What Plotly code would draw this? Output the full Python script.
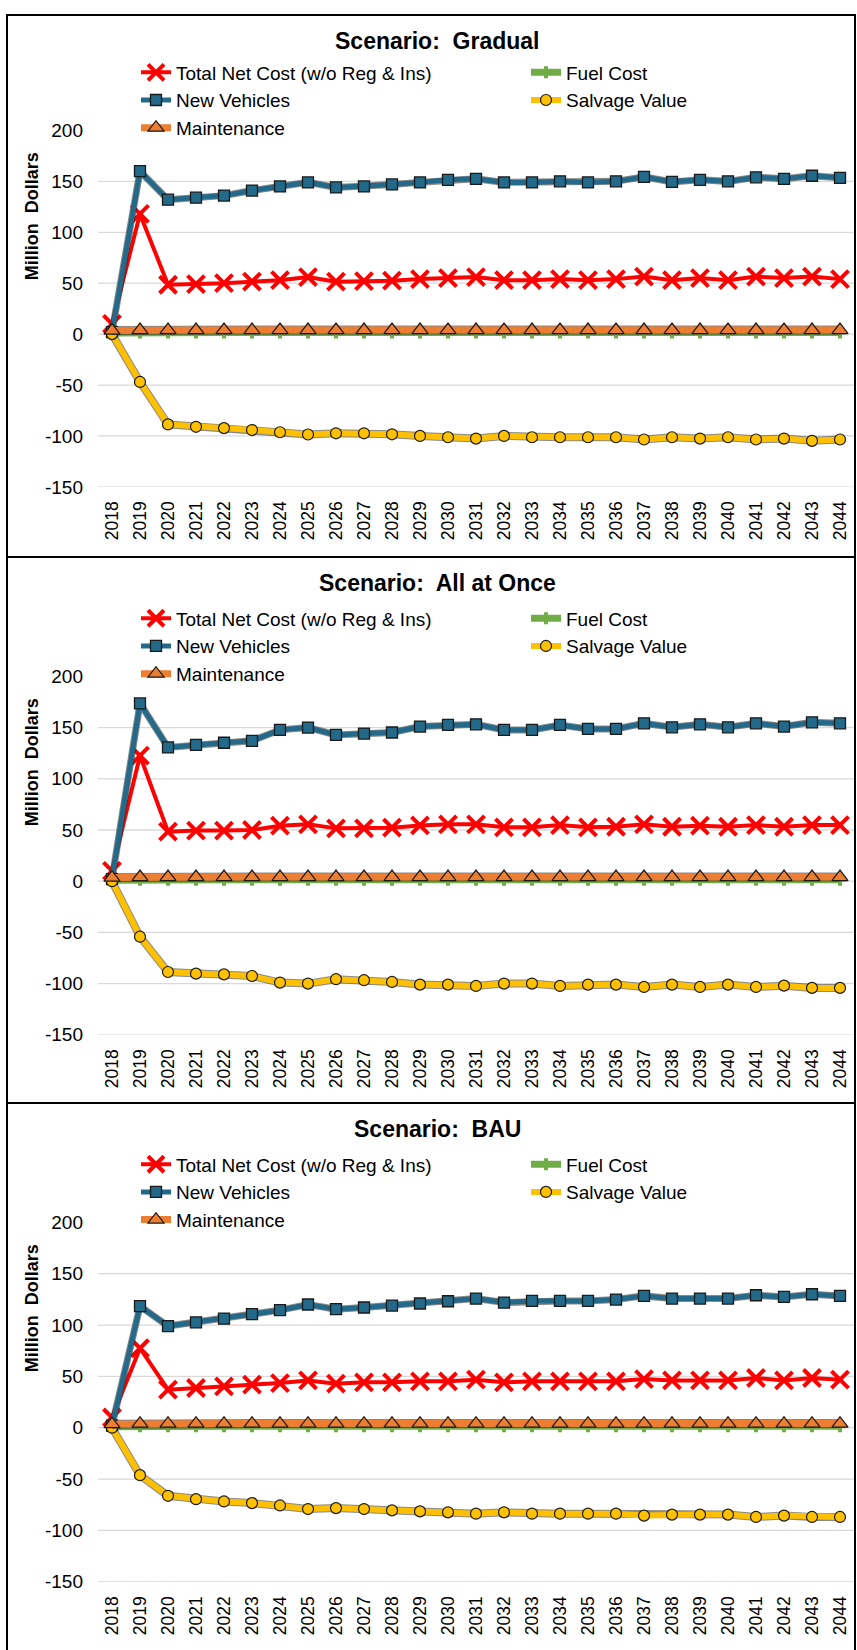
import plotly.graph_objects as go

years = ["2018", "2019", "2020", "2021", "2022", "2023", "2024", "2025", "2026",
         "2027", "2028", "2029", "2030", "2031", "2032", "2033", "2034", "2035",
         "2036", "2037", "2038", "2039", "2040", "2041", "2042", "2043", "2044"]

y_ticks = [-150, -100, -50, 0, 50, 100, 150, 200]

scenarios = ["Gradual", "All at Once", "BAU"]

# ---- Scenario: Gradual ----
gradual_total = [10, 118, 48.5, 49, 50, 51.5, 53, 56, 51.5, 52, 52.5, 54, 55, 56, 53, 53,
                 54, 53, 54, 56.5, 53, 55, 53, 56.5, 55, 56.5, 54]
gradual_fuel = [1, 1.5, 1.5, 1.5, 1.5, 1.5, 1.5, 1.5, 1.5, 1.5, 1.5, 1.5, 1.5, 1.5, 1.5,
                1.5, 1.5, 1.5, 1.5, 1.5, 1.5, 1.5, 1.5, 1.5, 1.5, 1.5, 1.5]
gradual_new = [2, 160, 132, 134, 136, 141, 145, 149, 144, 145, 147, 149, 151.5, 152.5, 149,
               149, 150, 149, 150, 154.5, 149.5, 151.5, 150, 154, 152.5, 155.5, 153.5]
gradual_salvage = [0, -47, -88.7, -91, -92.3, -94.2, -96.4, -98.6, -97.4, -97.4, -98.4, -100,
                   -101.3, -102.6, -100, -101.3, -101.3, -101.3, -101.3, -103.5, -101.3,
                   -102.6, -101.3, -103.5, -102.6, -104.8, -103.5]
gradual_maint = [3.5, 4, 4, 4, 4, 4, 4, 4, 4, 4, 4, 4, 4, 4, 4, 4, 4, 4, 4, 4, 4, 4, 4, 4,
                 4, 4, 4]

# ---- Scenario: All at Once ----
aao_total = [10, 122.6, 48.4, 49.4, 49.4, 50, 54.2, 55.5, 51.6, 51.6, 52.3, 54.5, 55.5, 55.5,
             52.6, 52.6, 54.8, 52.6, 53.2, 55.5, 53.2, 54.2, 53.2, 54.8, 53.2, 54.8, 54.8]
aao_fuel = [1, 1.5, 1.5, 1.5, 1.5, 1.5, 1.5, 1.5, 1.5, 1.5, 1.5, 1.5, 1.5, 1.5, 1.5,
            1.5, 1.5, 1.5, 1.5, 1.5, 1.5, 1.5, 1.5, 1.5, 1.5, 1.5, 1.5]
aao_new = [2, 173.6, 130.6, 133.2, 135.2, 137.1, 147.8, 150, 142.9, 144.2, 145.2, 151, 152.6,
           153.2, 147.7, 147.7, 152.6, 148.7, 148.7, 154.2, 150.3, 153.2, 150.3, 154.2, 151,
           155.2, 154.2]
aao_salvage = [0, -54.2, -88.7, -90.3, -91, -92.6, -99, -100, -95.7, -96.7, -98.4, -101, -101,
               -102.3, -100, -100, -102.3, -101, -101, -103.3, -101, -103.3, -101, -103.3,
               -102, -104.2, -104.2]
aao_maint = [3.5, 4, 4, 4, 4, 4, 4, 4, 4, 4, 4, 4, 4, 4, 4, 4, 4, 4, 4, 4, 4, 4, 4, 4,
             4, 4, 4]

# ---- Scenario: BAU ----
bau_total = [10, 77.4, 37.1, 38.7, 40.3, 41.9, 43.5, 46.1, 42.9, 44.2, 44.2, 45.2, 45.2, 46.8,
             44.2, 45.2, 45.2, 45.2, 45.2, 47.4, 46.1, 46.1, 46.1, 48.4, 46.1, 48.4, 46.8]
bau_fuel = [1, 1.5, 1.5, 1.5, 1.5, 1.5, 1.5, 1.5, 1.5, 1.5, 1.5, 1.5, 1.5, 1.5, 1.5,
            1.5, 1.5, 1.5, 1.5, 1.5, 1.5, 1.5, 1.5, 1.5, 1.5, 1.5, 1.5]
bau_new = [2, 118.4, 99, 102.6, 106.2, 110.7, 114.5, 120, 115.5, 117.1, 119, 121, 123.2, 125.8,
           121.9, 123.5, 123.5, 123.5, 124.8, 128.4, 125.8, 125.8, 125.8, 129, 127.4, 130,
           128.4]
bau_salvage = [0, -46.2, -66.3, -69.6, -71.8, -73.4, -75.7, -79.2, -78.3, -79.2, -80.5, -81.5,
               -82.4, -83.7, -82.4, -83.7, -83.7, -83.7, -83.7, -85.6, -84.6, -84.6, -84.6,
               -86.9, -85.6, -86.9, -86.9]
bau_maint = [3.5, 4, 4, 4, 4, 4, 4, 4, 4, 4, 4, 4, 4, 4, 4, 4, 4, 4, 4, 4, 4, 4, 4, 4,
             4, 4, 4]

series_names = ["Total Net Cost (w/o Reg & Ins)", "Fuel Cost", "New Vehicles",
                "Salvage Value", "Maintenance"]

data = [
    [gradual_total, gradual_fuel, gradual_new, gradual_salvage, gradual_maint],
    [aao_total, aao_fuel, aao_new, aao_salvage, aao_maint],
    [bau_total, bau_fuel, bau_new, bau_salvage, bau_maint],
]

# ---------------- styling / layout ----------------
W, H = 857, 1650
FONT = "Liberation Sans, Arial, sans-serif"


def py(px):
    return 1 - px / H


def pxx(px):
    return px / W


styles = [
    dict(line=dict(color="#FF0000", width=4),
         marker=dict(symbol="x-thin", size=17, color="#FF0000",
                     line=dict(color="#FF0000", width=4)), side="L", outline=False),
    dict(line=dict(color="#70AD47", width=7),
         marker=dict(symbol="cross", size=10, color="#70AD47",
                     line=dict(color="#70AD47", width=0)), side="R", outline=False),
    dict(line=dict(color="#22698A", width=5),
         marker=dict(symbol="square", size=11, color="#22698A",
                     line=dict(color="#1A1A1A", width=1.3)), side="L", outline=True),
    dict(line=dict(color="#FFC000", width=6),
         marker=dict(symbol="circle", size=11, color="#FFC000",
                     line=dict(color="#1A1A1A", width=1.2)), side="R", outline=True),
    dict(line=dict(color="#ED7D31", width=7),
         marker=dict(symbol="triangle-up", size=14, color="#ED7D31",
                     line=dict(color="#1A1A1A", width=1.2)), side="L", outline=True),
]

# pixel geometry per panel: (panel top, panel bottom, plot top (200), plot bottom (-150))
panels = [
    (5, 554, 122, 483),
    (554, 1107, 675, 1038),
    (1107, 1665, 1228, 1592),
]

PLOT_X0, PLOT_X1 = 98, 854

fig = go.Figure()
layout = dict(
    width=W, height=H,
    margin=dict(l=0, r=0, t=0, b=0),
    paper_bgcolor="white", plot_bgcolor="white",
    font=dict(family=FONT, color="#000000"),
    showlegend=True,
)
shapes = []
annotations = []

for i, (scen, vals, geo) in enumerate(zip(scenarios, data, panels)):
    ptop, pbot, ytop, ybot = geo
    xa = "x" if i == 0 else f"x{i+1}"
    ya = "y" if i == 0 else f"y{i+1}"
    xkey = "xaxis" if i == 0 else f"xaxis{i+1}"
    ykey = "yaxis" if i == 0 else f"yaxis{i+1}"
    legL = "legend" if i == 0 else f"legend{2*i+1}"
    legR = f"legend{2*i+2}"

    for name, v, st in zip(series_names, vals, styles):
        if st["outline"]:
            fig.add_trace(go.Scatter(
                x=years, y=v, mode="lines", showlegend=False,
                line=dict(color="rgba(40,40,40,0.55)", width=st["line"]["width"] + 2),
                xaxis=xa, yaxis=ya, hoverinfo="skip",
                legend=legL if st["side"] == "L" else legR,
            ))
        fig.add_trace(go.Scatter(
            x=years, y=v, name=name, mode="lines+markers",
            line=st["line"], marker=st["marker"],
            xaxis=xa, yaxis=ya,
            legend=legL if st["side"] == "L" else legR,
            hoverinfo="skip",
        ))

    layout[xkey] = dict(
        domain=[pxx(PLOT_X0), pxx(PLOT_X1)], anchor=ya,
        type="category", range=[-0.5, len(years) - 0.5],
        tickangle=-90, tickfont=dict(size=17.5, family=FONT, color="#000"),
        showgrid=False, zeroline=False, showline=False, ticks="",
        ticklabelstandoff=10,
    )
    layout[ykey] = dict(
        domain=[py(ybot), py(ytop)], anchor=xa,
        range=[-150, 200], tickvals=y_ticks,
        ticktext=[str(t) for t in y_ticks],
        tickfont=dict(size=19, family=FONT, color="#000"),
        showgrid=False, zeroline=False, showline=False, ticks="",
        ticklabelstandoff=14,
    )
    for t in y_ticks:
        if t == y_ticks[-1]:
            continue
        shapes.append(dict(type="line", xref=f"{xa} domain", yref=ya,
                           x0=0, x1=1, y0=t, y1=t, layer="below",
                           line=dict(color="#D9D9D9", width=1.3)))
    # panel border
    shapes.append(dict(type="rect", xref="paper", yref="paper",
                       x0=pxx(7), x1=pxx(855), y0=py(pbot), y1=py(ptop),
                       line=dict(color="#000000", width=2), layer="above"))
    # title
    annotations.append(dict(text="<b>Scenario:\u00a0 " + scen + "</b>", xref="paper", yref="paper",
                            x=pxx(437.5), y=py(ptop + 26), xanchor="center", yanchor="middle",
                            showarrow=False, font=dict(size=23, family=FONT, color="#000")))
    # y-axis title
    annotations.append(dict(text="<b>Million\u00a0 Dollars</b>", xref="paper", yref="paper",
                            x=pxx(32), y=py(ytop + 87), xanchor="center", yanchor="middle",
                            textangle=-90, showarrow=False,
                            font=dict(size=18, family=FONT, color="#000")))
    legend_common = dict(bgcolor="rgba(0,0,0,0)", borderwidth=0,
                         font=dict(size=19, family=FONT, color="#000"),
                         orientation="v", xanchor="left", yanchor="top",
                         itemclick=False, itemdoubleclick=False)
    layout[legL] = dict(legend_common, x=pxx(136), y=py(ytop - 78))
    layout[legR] = dict(legend_common, x=pxx(526), y=py(ytop - 78))

layout["shapes"] = shapes
layout["annotations"] = annotations
fig.update_layout(**layout)

fig.write_html(
    "out.html",
    config={"displayModeBar": False, "staticPlot": True},
    post_script=(
        "document.documentElement.style.margin='0px';"
        "document.body.style.margin='0px';document.body.style.overflow='hidden';"
        "var gd=document.getElementById('{plot_id}');"
        "gd.style.position='absolute';gd.style.top='0px';gd.style.left='0px';"
    ),
)
